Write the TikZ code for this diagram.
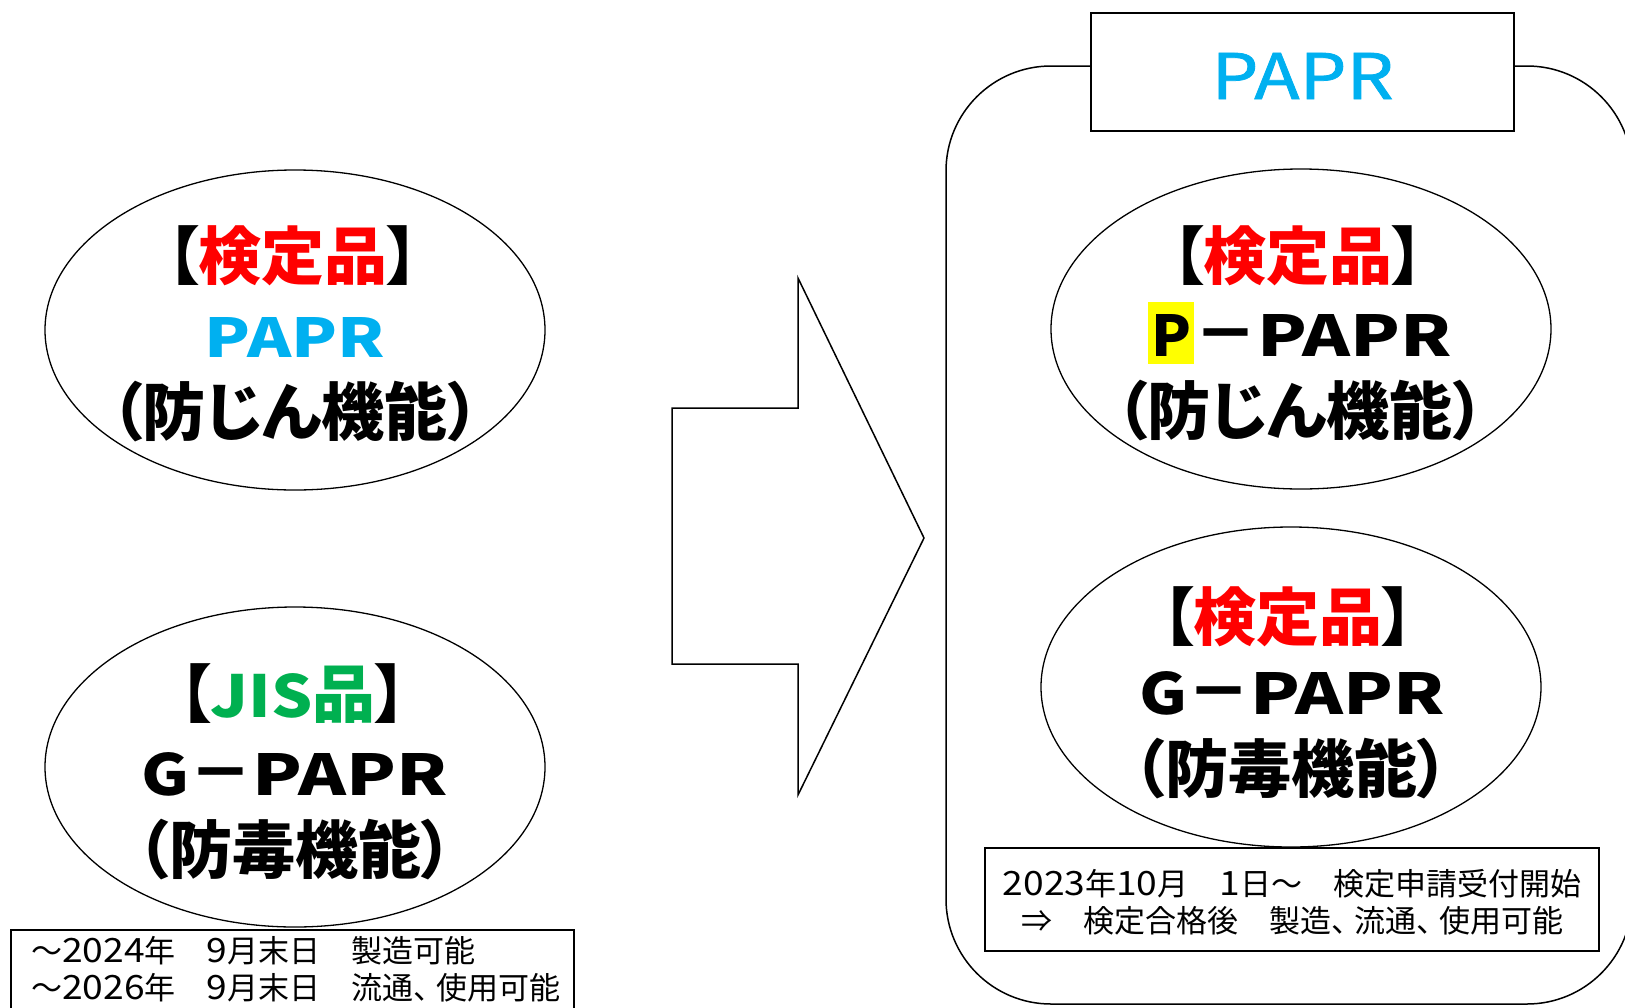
\documentclass[tikz,border=0pt]{standalone}
\usepackage{fontspec}
\setmainfont{Noto Sans CJK JP}
\newfontfamily\jp{Noto Sans CJK JP}[RawFeature=+palt]
\newfontfamily\jpmed{Noto Sans CJK JP}[FakeBold=1.2]
\usetikzlibrary{shapes.geometric}
\definecolor{paprblue}{HTML}{00B0F0}
\definecolor{kred}{HTML}{FF0000}
\definecolor{jgreen}{HTML}{00B050}
\definecolor{hl}{HTML}{FFFF00}
\setlength{\fboxsep}{0pt}
\newcommand\fitw[3]{\resizebox{#1pt}{#2pt}{#3}}
\newcommand\dg[1]{\scalebox{1.2}[1.08]{#1}}
\newcommand\ten{、\kern-8pt}
\begin{document}
\begin{tikzpicture}[x=1pt,y=-1pt,
  oval/.style={draw, ellipse, line width=1.3pt, minimum width=500pt, minimum height=320pt, inner sep=0pt},
  big/.style={anchor=base, inner sep=0pt, font=\jp\bfseries\fontsize{63}{72}\selectfont},
  small/.style={inner sep=0pt, font=\fontsize{31}{37}\selectfont},
  frame/.style={draw, line width=1.5pt}]
\useasboundingbox (0,0) rectangle (1625,1007);

% right container
\draw[frame, rounded corners=105pt] (946,66) rectangle (1632,1004);
\node[frame, fill=white, minimum width=423pt, minimum height=118pt, inner sep=0pt] (papr) at (1302.5,72) {};
\node[anchor=base, inner sep=0pt, text=paprblue, font=\jpmed] (paprt) at (1302.5,99) {\fitw{182}{46}{PAPR}};

% left ellipse 1
\node[oval] (e1) at (295,330) {};
\node[big] (e1a) at (293,279) {【\textcolor{kred}{検定品}】};
\node[big] (e1b) at (295,357) {\textcolor{paprblue}{\fitw{180}{40}{PAPR}}};
\node[big] (e1c) at (295,435) {（防じん機能）};

% left ellipse 2
\node[oval] (e2) at (295,767) {};
\node[big] (e2a) at (293,717) {【\textcolor{jgreen}{\fitw{102}{44}{JIS}品}】};
\node[big] (e2b) at (295,795) {\fitw{48}{43}{G}－\fitw{195}{42}{PAPR}};
\node[big] (e2c) at (295,873) {（防毒機能）};

% left note
\node[frame, minimum width=563pt, minimum height=110pt, anchor=north west, inner sep=0pt] (n1) at (10,929) {};
\node[small, anchor=north west, align=left] (n1t) at (31,936) {～\dg{2024}年　\dg{9}月末日　製造可能\\～\dg{2026}年　\dg{9}月末日　流通\ten 使用可能};

% big arrow
\draw[line width=1.5pt] (672,408) -- (798,408) -- (798,278) -- (924,538) -- (798,795) -- (798,664) -- (672,664) -- cycle;

% right ellipse 1
\node[oval] (r1) at (1301,329) {};
\node[big] (r1a) at (1298,279) {【\textcolor{kred}{検定品}】};
\node[big] (r1b) at (1300,356) {\colorbox{hl}{\rule[-8pt]{0pt}{62pt}\hspace{3pt}\fitw{40}{42}{P}\hspace{3pt}}－\fitw{195}{42}{PAPR}};
\node[big] (r1c) at (1300,434) {（防じん機能）};

% right ellipse 2
\node[oval] (r2) at (1291,687) {};
\node[big] (r2a) at (1288,640) {【\textcolor{kred}{検定品}】};
\node[big] (r2b) at (1292,714) {\fitw{48}{43}{G}－\fitw{195}{42}{PAPR}};
\node[big] (r2c) at (1291,792) {（防毒機能）};

% right note
\node[frame, minimum width=614pt, minimum height=103pt, inner sep=0pt] (n2) at (1292,899.5) {};
\node[small, align=center] (n2t) at (1292,902) {\dg{2023}年\dg{10}月　\dg{1}日～　検定申請受付開始\\⇒　検定合格後　製造\ten 流通\ten 使用可能};
\end{tikzpicture}
\end{document}
